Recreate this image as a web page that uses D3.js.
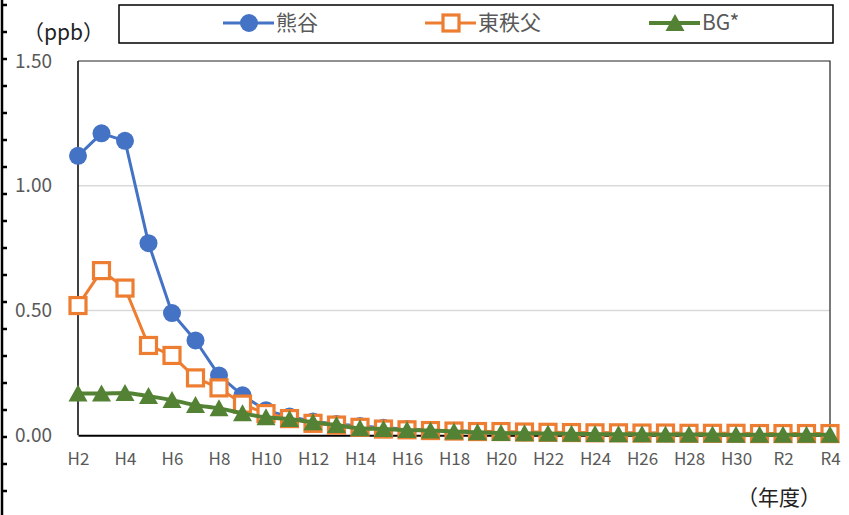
<!DOCTYPE html>
<html>
<head>
	<meta charset="utf-8"/>
	<title>D3.js - 濃度推移</title>
	<script src="https://cdn.jsdelivr.net/npm/d3@7"></script>
	<style type="text/css">
		body { margin: 0; background: #fff; }
		svg { display: block; font-family: "Noto Sans CJK JP", "Noto Sans", sans-serif; }
	</style>
</head>
<body>
	<svg id="chart" width="849" height="515"></svg>
	<script type="text/javascript">

		// 年度
		var years = ["H2","H3","H4","H5","H6","H7","H8","H9","H10","H11","H12","H13","H14","H15","H16",
			"H17","H18","H19","H20","H21","H22","H23","H24","H25","H26","H27","H28","H29","H30","R1","R2","R3","R4"];

		var kumagaya = [1.12,1.21,1.18,0.77,0.49,0.38,0.24,0.16,0.10,0.075,0.055,0.045,0.037,0.030,0.025,
			0.020,0.018,0.015,0.013,0.012,0.011,0.010,0.009,0.009,0.008,0.008,0.007,0.007,0.007,0.006,0.006,0.006,0.005];

		var higashichichibu = [0.52,0.66,0.59,0.36,0.32,0.23,0.19,0.125,0.087,0.067,0.048,0.041,0.032,0.025,0.022,
			0.019,0.017,0.015,0.015,0.013,0.012,0.011,0.010,0.010,0.009,0.009,0.008,0.008,0.008,0.007,0.007,0.007,0.007];

		var bg = [0.168,0.168,0.170,0.157,0.141,0.121,0.108,0.088,0.072,0.065,0.052,0.041,0.028,0.025,0.021,
			0.019,0.015,0.012,0.009,0.008,0.007,0.006,0.005,0.004,0.004,0.003,0.003,0.003,0.002,0.002,0.002,0.002,0.002];

		var yTicks = [0, 0.5, 1.0, 1.5];

		drawChart();

		function drawChart() {
			var series = [
				{name: "熊谷", values: kumagaya, color: "#4472C4", marker: "circle", width: 3, lx: 249},
				{name: "東秩父", values: higashichichibu, color: "#ED7D31", marker: "square", width: 3, lx: 451},
				{name: "BG*", values: bg, color: "#548235", marker: "triangle", width: 4, lx: 675}
			];

			var svg = d3.select("#chart");
			var pLeft = 78, pRight = 830, pTop = 61, pBottom = 435.3;

			var x = d3.scalePoint().domain(years).range([pLeft, pRight]);
			var y = d3.scaleLinear().domain([0, 1.5]).range([pBottom, pTop]);

			// ruler-like mark on the left edge
			svg.append("line").attr("x1", 2).attr("x2", 2).attr("y1", 0).attr("y2", 515)
				.attr("stroke", "#000").attr("stroke-width", 2.5);
			svg.selectAll(".rtick").data(d3.range(5, 515, 27)).enter()
				.append("line").attr("class", "rtick")
				.attr("x1", 2).attr("x2", 7).attr("y1", function(d) { return d; }).attr("y2", function(d) { return d; })
				.attr("stroke", "#000").attr("stroke-width", 2.5);

			// gridlines
			svg.append("g").selectAll("line").data(yTicks.filter(function(d) { return d > 0 && d < 1.5; })).enter()
				.append("line")
				.attr("x1", pLeft).attr("x2", pRight)
				.attr("y1", function(d) { return y(d); }).attr("y2", function(d) { return y(d); })
				.attr("stroke", "#d9d9d9").attr("stroke-width", 1.5);

			// frame
			svg.append("path")
				.attr("d", "M" + pLeft + "," + pTop + "H" + pRight + "V" + pBottom)
				.attr("fill", "none").attr("stroke", "#222").attr("stroke-width", 1.2);
			svg.append("line").attr("x1", pLeft).attr("x2", pLeft).attr("y1", pTop).attr("y2", pBottom)
				.attr("stroke", "#000").attr("stroke-width", 1.5);

			// y axis labels
			var yAxis = svg.append("g").attr("transform", "translate(" + pLeft + ",0)")
				.call(d3.axisLeft(y).tickValues(yTicks).tickSize(0).tickPadding(26).tickFormat(d3.format(".2f")));
			yAxis.select(".domain").remove();
			yAxis.selectAll("text").attr("fill", "#595959").style("font-size", "19px")
				.style("font-family", "'Noto Sans CJK JP', sans-serif");

			// x axis
			var xAxis = svg.append("g").attr("transform", "translate(0," + pBottom + ")")
				.call(d3.axisBottom(x).tickSize(0).tickPadding(18)
					.tickFormat(function(d, i) { return i % 2 === 0 ? d : ""; }));
			xAxis.select(".domain").attr("stroke", "#000").attr("stroke-width", 2);
			xAxis.selectAll("text").attr("fill", "#595959").style("font-size", "17px")
				.style("font-family", "'Noto Sans CJK JP', sans-serif");

			function drawMarker(g, type, color, cx, cy) {
				if (type === "circle") {
					g.append("circle").attr("cx", cx).attr("cy", cy).attr("r", 9).attr("fill", color);
				} else if (type === "square") {
					g.append("rect").attr("x", cx - 8).attr("y", cy - 8).attr("width", 16).attr("height", 16)
						.attr("fill", "#fff").attr("stroke", color).attr("stroke-width", 3.2);
				} else {
					g.append("path").attr("d", "M" + cx + "," + (cy - 9) + "L" + (cx + 9.5) + "," + (cy + 8) + "L" + (cx - 9.5) + "," + (cy + 8) + "Z")
						.attr("fill", color);
				}
			}

			var line = d3.line()
				.x(function(d, i) { return x(years[i]); })
				.y(function(d) { return y(d); });

			series.forEach(function(s) {
				var g = svg.append("g");
				line.curve(s.marker === "triangle" ? d3.curveMonotoneX : d3.curveLinear);
				g.append("path")
					.attr("d", line(s.values))
					.attr("fill", "none").attr("stroke", s.color).attr("stroke-width", s.width)
					.attr("stroke-linejoin", "round");
				s.values.forEach(function(v, i) {
					drawMarker(g, s.marker, s.color, x(years[i]), y(v));
				});
			});

			// legend
			var lg = svg.append("g");
			lg.append("rect").attr("x", 119).attr("y", 5).attr("width", 714).attr("height", 38)
				.attr("fill", "#fff").attr("stroke", "#000").attr("stroke-width", 1.5);
			series.forEach(function(s) {
				lg.append("line").attr("x1", s.lx - 26).attr("x2", s.lx + 25).attr("y1", 23).attr("y2", 23)
					.attr("stroke", s.color).attr("stroke-width", s.width);
				drawMarker(lg, s.marker, s.color, s.lx, 23);
				lg.append("text").attr("x", s.lx + 27).attr("y", 30).text(s.name)
					.attr("fill", "#595959").style("font-size", "21px");
			});

			// unit labels
			svg.append("text").attr("x", 23).attr("y", 40).text("（ppb）")
				.attr("fill", "#222").style("font-size", "21px");
			svg.append("text").attr("x", 737).attr("y", 505).text("（年度）")
				.attr("fill", "#222").style("font-size", "21px");
		}
	</script>
</body>
</html>
